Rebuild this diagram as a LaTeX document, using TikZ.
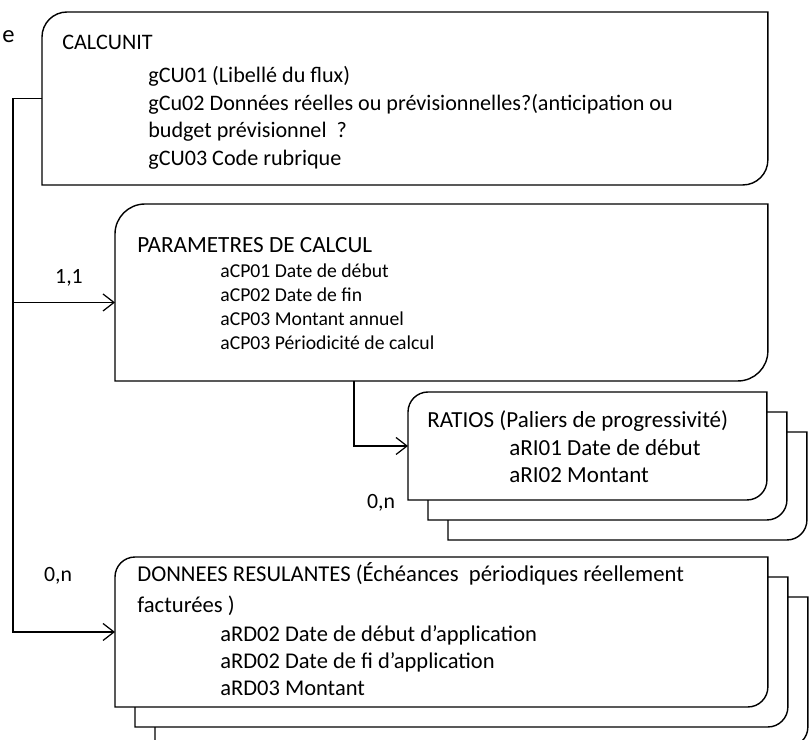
\documentclass[tikz,border=0pt]{standalone}
\usepackage{fontspec}
\setmainfont{Carlito}
\usetikzlibrary{arrows.meta}

% outline of an entity: rounded top left and bottom right corners
\newcommand{\entbox}[2]{%
  \draw[boxline] (#1.south west) -- ([yshift=-#2]#1.north west)
    arc[start angle=180,end angle=90,radius=#2] -- (#1.north east)
    -- ([yshift=#2]#1.south east)
    arc[start angle=0,end angle=-90,radius=#2] -- cycle;}
% lines of text, first baseline on the node's base
\newcommand{\attrs}[1]{\begin{tabular}[t]{@{}l@{}}#1\end{tabular}}

\tikzset{
  boxline/.style={line width=0.8pt,fill=white},
  ent/.style={anchor=north west,inner sep=0pt,outer sep=0pt},
  lbl/.style={anchor=base west,inner sep=0pt},
  link/.style={line width=0.7pt,-{Straight Barb[length=2.2mm,width=3.4mm]}},
  card/.style={anchor=base,inner sep=0pt,font=\fontsize{12.4}{14}\selectfont}
}

\begin{document}
\begin{tikzpicture}[x=0.02cm,y=0.02cm]
  \useasboundingbox (0,0) rectangle (811,-740);
  \clip (0,0) rectangle (811,-740);

  \node[lbl,anchor=base east,font=\fontsize{14}{16}\selectfont] (cut) at (15,-43) {e};

  % CALCUNIT
  \node[ent,minimum width=14.52cm,minimum height=3.46cm] (cu) at (42,-12) {};
  \entbox{cu}{0.5cm}
  \node[lbl,font=\fontsize{12.6}{15.6}\selectfont] (cuH) at (62,-50) {CALCUNIT};
  \node[lbl,font=\fontsize{12.6}{15.6}\selectfont] (cuB) at (148,-83)
    {\attrs{gCU01 (Libellé du flux)\\
     gCu02 Données réelles ou prévisionnelles?(anticipation ou\\
     budget prévisionnel \ ?\\
     gCU03 Code rubrique}};

  % PARAMETRES DE CALCUL
  \node[ent,minimum width=13.06cm,minimum height=3.54cm] (par) at (115,-204) {};
  \entbox{par}{0.6cm}
  \node[lbl,font=\fontsize{13.2}{16}\selectfont] (parH) at (137,-252) {PARAMETRES DE CALCUL};
  \node[lbl,font=\fontsize{11.2}{13.7}\selectfont] (parB) at (220,-277)
    {\attrs{aCP01 Date de début\\
     aCP02 Date de fin\\
     aCP03 Montant annuel\\
     aCP03 Périodicité de calcul}};

  % RATIOS, stacked
  \foreach \k in {2,1,0}{
    \node[ent,minimum width=7.18cm,minimum height=2.16cm] (ra\k) at ({408+20*\k},{-392-20*\k}) {};
    \entbox{ra\k}{0.4cm}
  }
  \node[lbl,font=\fontsize{13.1}{15.9}\selectfont] (raH) at (427,-427) {RATIOS (Paliers de progressivité)};
  \node[lbl,font=\fontsize{13.1}{15.9}\selectfont] (raB) at (509,-455)
    {\attrs{aRI01 Date de début\\
     aRI02 Montant}};

  % DONNEES RESULANTES, stacked
  \foreach \k in {2,1,0}{
    \node[ent,minimum width=13.06cm,minimum height=3.0cm] (do\k) at ({115+20*\k},{-557-20*\k}) {};
    \entbox{do\k}{0.4cm}
  }
  \node[lbl,font=\fontsize{12.9}{18.2}\selectfont] (doH) at (137,-581)
    {\attrs{DONNEES RESULANTES (Échéances \ périodiques réellement\\
     facturées )}};
  \node[lbl,font=\fontsize{12.8}{15.4}\selectfont] (doB) at (220,-641)
    {\attrs{aRD02 Date de début d’application\\
     aRD02 Date de fi d’application\\
     aRD03 Montant}};

  % links
  \draw[link] (cu.west) -- ++(-29,0) |- ([yshift=-0.2cm]par.west);
  \draw[link] (cu.west) -- ++(-29,0) |- (do0.west);
  \draw[link] ([xshift=4.78cm]par.south west) |- (ra0.west);

  \node[card] (c11) at (69,-283) {1,1};
  \node[card] (c0nA) at (381,-508) {0,n};
  \node[card] (c0nB) at (58,-581) {0,n};
\end{tikzpicture}
\end{document}
